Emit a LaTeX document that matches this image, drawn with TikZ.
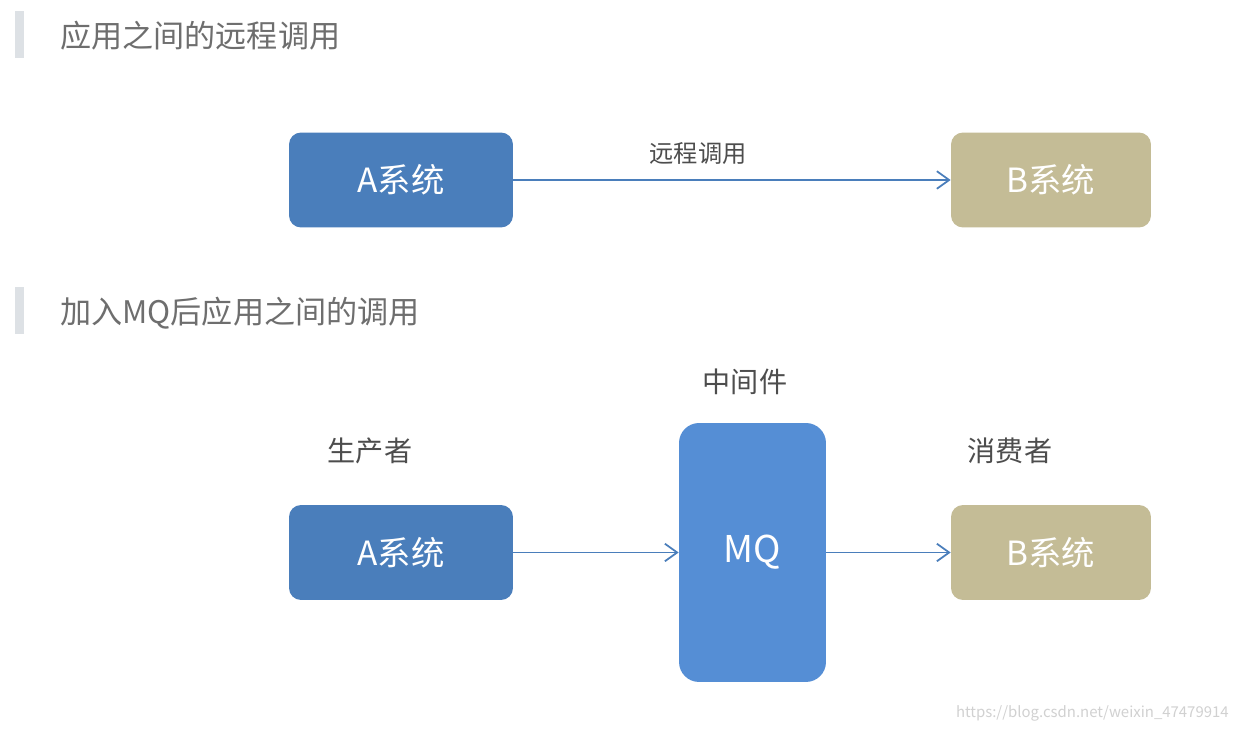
\documentclass[tikz,border=0pt]{standalone}
\usepackage{fontspec}
\newfontfamily\cjk{Noto Sans CJK SC}
\usepackage{tikz}
\usepackage{xcolor}
\usetikzlibrary{arrows.meta}

\definecolor{sysblue}{HTML}{4A7EBB}
\definecolor{mqblue}{HTML}{558ED5}
\definecolor{systan}{HTML}{C4BC96}
\definecolor{barGray}{HTML}{DDE1E5}
\definecolor{titleGray}{HTML}{6E6E6E}
\definecolor{labelGray}{HTML}{4D4D4D}

\tikzset{
  sysbox/.style={rounded corners=0.24cm, inner sep=0pt, text=white,
    minimum width=4.48cm, minimum height=1.9cm, font=\cjk\fontsize{19}{22}\selectfont},
  title/.style={anchor=west, inner sep=0pt, text=titleGray, font=\cjk\fontsize{17.7}{21}\selectfont},
  tag/.style={inner sep=0pt, text=labelGray, font=\cjk\fontsize{16}{19}\selectfont},
  call/.style={draw=sysblue, line width=1pt, -{Straight Barb[length=7pt,width=10pt,line width=1pt]}}
}

\begin{document}
\begin{tikzpicture}[x=0.02cm,y=-0.02cm]
\useasboundingbox[fill=white] (0,0) rectangle (1238,732);

% first part
\fill[barGray] (15,11) rectangle (24,58);
\node[title] (t1) at (60,36) {应用之间的远程调用};
\node[sysbox, fill=sysblue] (a1) at (401,180) {A系统};
\node[sysbox, fill=systan, minimum width=4cm] (b1) at (1051,180) {B系统};
\draw[call] (a1) -- (b1);
\node[tag, font=\cjk\fontsize{13.8}{16}\selectfont] (rc) at (698,154) {远程调用};

% second part
\fill[barGray] (15,287) rectangle (24,334);
\node[title] (t2) at (60,313) {加入MQ后应用之间的调用};
\node[sysbox, fill=sysblue] (a2) at (401,552.5) {A系统};
\node[sysbox, fill=mqblue, minimum width=2.94cm, minimum height=5.18cm, rounded corners=0.4cm,
  font=\cjk\fontsize{21}{24}\selectfont] (mq) at (752.5,552.5) {MQ};
\node[sysbox, fill=systan, minimum width=4cm] (b2) at (1051,552.5) {B系统};
\draw[call] (a2) -- (mq);
\draw[call] (mq) -- (b2);
\node[tag] (prod) at (370,451) {生产者};
\node[tag] (mid) at (745,382) {中间件};
\node[tag] (cons) at (1010,451) {消费者};

\node[anchor=east, inner sep=0pt, text=black!18, font=\cjk\fontsize{8.5}{10}\selectfont] (wm) at (1229,713) {https://blog.csdn.net/weixin\_47479914};
\end{tikzpicture}
\end{document}
